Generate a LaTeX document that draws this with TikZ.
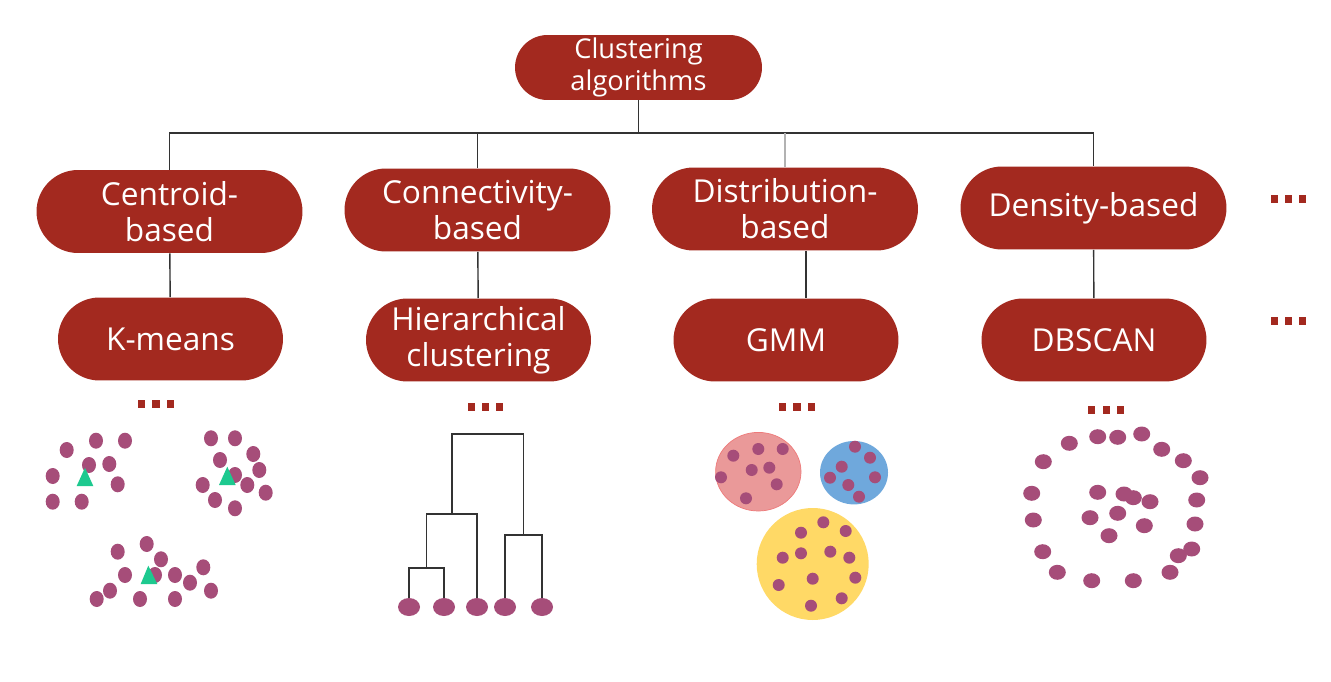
\documentclass[tikz,border=0pt]{standalone}
\usepackage{fontspec}
\setmainfont{Open Sans}
\usepackage{xcolor}
\usepackage{tikz}
\usetikzlibrary{positioning,shapes.geometric}
\definecolor{algored}{HTML}{A3291F}
\definecolor{dotpurple}{HTML}{A64D79}
\definecolor{centgreen}{HTML}{1DC98F}
\definecolor{gmmpink}{HTML}{EA9999}
\definecolor{gmmblue}{HTML}{6FA8DC}
\definecolor{gmmyellow}{HTML}{FFD966}
\tikzset{algo/.style={fill=algored,text=white,inner sep=0pt,align=center,
    minimum width=5.32cm,minimum height=1.66cm,rounded corners=0.83cm,
    font=\fontsize{18}{20.5}\selectfont},
  method/.style={algo,minimum width=4.5cm},
  root/.style={algo,minimum width=4.94cm,minimum height=1.3cm,rounded corners=0.65cm,
    font=\fontsize{15.5}{18}\selectfont},
  etc/.style={text=algored,inner sep=0pt},
  leaf/.style={ellipse,fill=dotpurple,inner sep=0pt,minimum width=0.44cm,minimum height=0.36cm},
  tree/.style={draw=black!80,line width=0.8pt}}
\newcommand{\moredots}{\rule{4pt}{4pt}\hspace{4pt}\rule{4pt}{4pt}\hspace{4pt}\rule{4pt}{4pt}}

\begin{document}
\begin{tikzpicture}[x=0.02cm,y=-0.02cm]
\useasboundingbox[fill=white] (0,0) rectangle (1331,682);
% tree of algorithm families
\node[root] (clust) at (638.5,67.5) {Clustering\\algorithms};
\node[algo] (centroid) at (169.5,211.5) {Centroid-\\based};
\node[algo] (connect) at (477.5,210) {Connectivity-\\based};
\node[algo] (distrib) at (785,209) {Distribution-\\based};
\node[algo] (density) at (1093.5,208) {Density-based};
\node[method] (kmeans) at (170.5,339) {K-means};
\node[method] (hier) at (478.5,340) {Hierarchical\\clustering};
\node[method] (gmm) at (786,340) {GMM};
\node[method] (dbscan) at (1094,340) {DBSCAN};
\coordinate (bar) at (638.5,133);
\draw[tree] (clust) -- (bar);
\draw[tree] (centroid.north) |- (bar) -| (density.north);
\draw[tree] (connect.north) -- (connect.north |- bar);
\draw[tree,draw=black!30] (distrib.north) -- (distrib.north |- bar);
\draw[tree] (centroid) -- (kmeans);
\draw[tree] (connect) -- (hier);
\draw[tree] ([xshift=0.42cm]distrib.south) -- ([xshift=0.42cm]distrib.south |- gmm.north);
\draw[tree] (density) -- (dbscan);
% more of them
\node[etc] (moreA) at (1288.5,199) {\moredots};
\node[etc] (moreB) at (1288.5,321) {\moredots};
\node[etc] (moreK) at (156,404) {\moredots};
\node[etc] (moreH) at (485.5,407) {\moredots};
\node[etc] (moreG) at (797,407) {\moredots};
\node[etc] (moreD) at (1106,410) {\moredots};
% k-means
\foreach \x/\y in {66.7/450,96/440.7,125/440.7,89/465,109.3/464,52.7/476,117.7/484.3,52.7/501.7,81.7/501.7,
  211/438.3,235/438.3,253.3/454,220/460,259.3/470,235/475,202.7/485,247.3/485,265.7/492.7,215/500,235/508.3,
  146.7/544,117.7/551.7,161/559.3,125/575,155/575,175/575,203.3/567.3,190/582.7,110/590.7,96.7/599,140/599,175/599,211/590.7}
  \fill[dotpurple] (\x,\y) ellipse [x radius=7,y radius=8];
\fill[centgreen] (85,467.7) -- (93.3,486) -- (76.7,486) -- cycle;
\fill[centgreen] (227.3,466.7) -- (235.7,485) -- (219,485) -- cycle;
\fill[centgreen] (148.3,565.7) -- (157.3,584) -- (140.7,584) -- cycle;
% dendrogram
\node[leaf] (l1) at (409,607) {};
\node[leaf] (l2) at (444,607) {};
\node[leaf] (l3) at (477,607) {};
\node[leaf] (l4) at (505,607) {};
\node[leaf] (l5) at (542,607) {};
\coordinate (j12) at (426.5,568);
\coordinate (j123) at (452,514);
\coordinate (j45) at (523.5,535);
\coordinate (jall) at (488,434);
\draw[tree] (l1.north) |- (j12) -| (l2.north);
\draw[tree] (j12) -- (j12 |- j123) -| (l3.north);
\draw[tree] (l4.north) |- (j45) -| (l5.north);
\draw[tree] (j123) |- (jall) -| (j45);
% gmm
\filldraw[fill=gmmpink,draw=gmmpink!80!red] (758.3,471.7) ellipse [x radius=42.7,y radius=39.3];
\fill[gmmblue] (854,472.7) ellipse [x radius=34,y radius=31.7];
\fill[gmmyellow] (812.7,564) ellipse [x radius=56,y radius=56];
\foreach \x/\y in {733.3/455.7,758.3/449,782.7/449,751.7/470,769.3/467.7,721/477.3,776.7/484.3,746/498.3,
  855/446.7,870/457.7,841.7/466.7,830/477.7,875/477.3,848.3/485,859/496.7,
  823.3/522.3,801/532.7,845.7/531,782.7/557.7,801/553.3,830.3/551.7,849.3/557.7,812.7/578.7,855.3/577.7,778.7/585,841.7/598.3,811/605.7}
  \fill[dotpurple] (\x,\y) ellipse [x radius=6,y radius=6];
% dbscan
\foreach \x/\y in {1097.7/436.7,1117.7/437.3,1141.7/434,1069.3/443.3,1161.7/449.3,1043.3/461.7,1183.3/460.7,1200/477.7,
  1031.7/493.3,1196.7/500,1033.3/520,1195/524,1042.7/551.7,1191.7/549,1178.3/555.7,1057.3/572.3,1170/572.3,1091.7/580.7,1133.3/580.7,
  1097.7/492.3,1124/494,1133.3/497.7,1150/501.7,1090/517.7,1117.7/513.3,1144.3/525.7,1109/535.7}
  \fill[dotpurple] (\x,\y) ellipse [x radius=8.5,y radius=7.5];
\end{tikzpicture}
\end{document}
